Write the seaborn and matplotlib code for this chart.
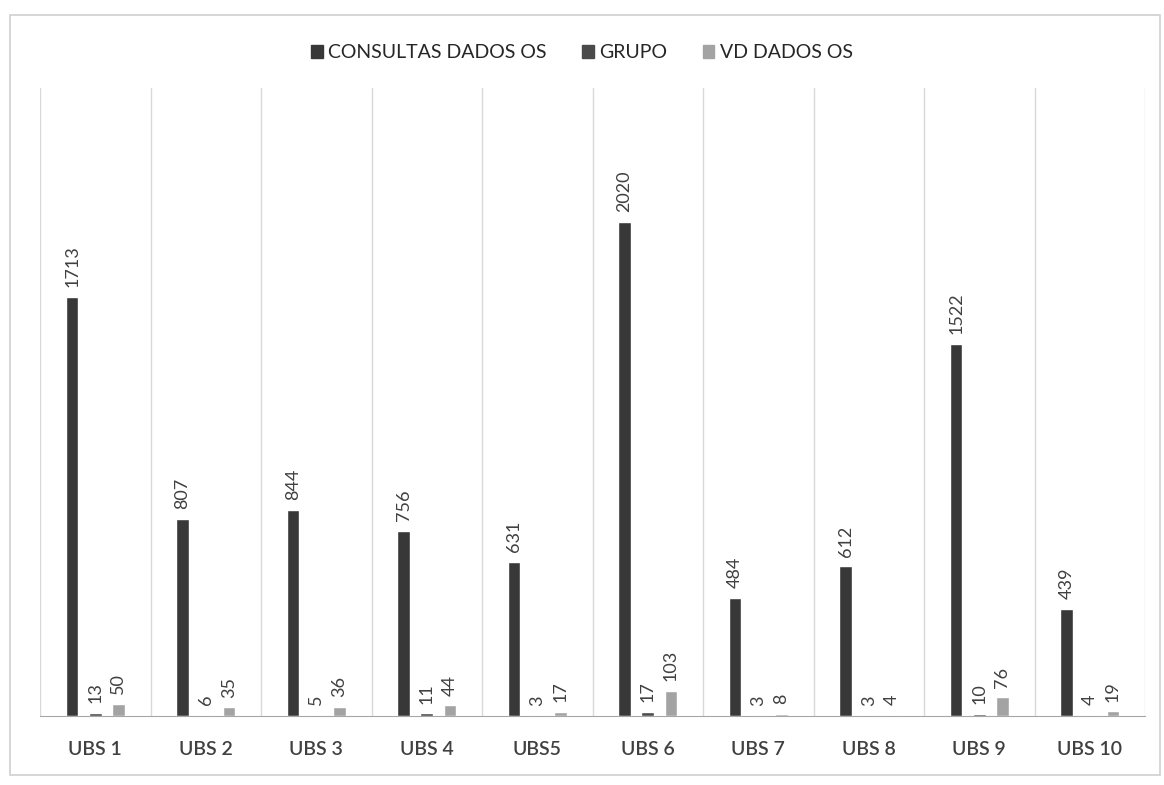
import matplotlib
matplotlib.use("Agg")
import matplotlib.pyplot as plt
import matplotlib.patches as mpatches
import seaborn as sns
import pandas as pd

categories = ["UBS 1", "UBS 2", "UBS 3", "UBS 4", "UBS5", "UBS 6", "UBS 7", "UBS 8", "UBS 9", "UBS 10"]
series_names = ["CONSULTAS DADOS OS", "GRUPO", "VD DADOS OS"]
consultas = [1713, 807, 844, 756, 631, 2020, 484, 612, 1522, 439]
grupo = [13, 6, 5, 11, 3, 17, 3, 3, 10, 4]
vd = [50, 35, 36, 44, 17, 103, 8, 4, 76, 19]
colors = ["#383838", "#4a4a4a", "#a3a3a3"]

# long format table for seaborn
rows = []
for name, values in zip(series_names, [consultas, grupo, vd]):
    for cat, v in zip(categories, values):
        rows.append({"UBS": cat, "serie": name, "valor": v})
df = pd.DataFrame(rows)

sns.set_style("white")
plt.rcParams["font.family"] = ["Lato", "DejaVu Sans"]

fig = plt.figure(figsize=(11.64, 7.85), dpi=100)
ax = fig.add_axes([40 / 1164, 1 - 716 / 785, 1105 / 1164, 628 / 785])

sns.barplot(data=df, x="UBS", y="valor", hue="serie", order=categories,
            hue_order=series_names, palette=colors, width=0.63, gap=0.45,
            ax=ax, legend=False)

# data labels rotated like the original
for cont in ax.containers:
    ax.bar_label(cont, rotation=90, padding=7, fontsize=13, color="#404040")

ax.set_ylim(0, 2568)
ax.set_xlim(-0.5, 9.5)
ax.set_yticks([])
ax.set_xlabel("")
ax.set_ylabel("")
ax.set_xticks(range(len(categories)))
ax.set_xticklabels(categories, fontsize=14, color="#404040", fontweight="semibold")
ax.tick_params(axis="x", length=0, pad=18)

# vertical separators between categories
ax.set_xticks([i - 0.5 for i in range(len(categories) + 1)], minor=True)
ax.tick_params(axis="x", which="minor", length=0)
ax.grid(axis="x", which="minor", color="#d9d9d9", linewidth=1)
ax.grid(axis="x", which="major", visible=False)
for side in ["top", "left", "right"]:
    ax.spines[side].set_visible(False)
ax.spines["bottom"].set_color("#a6a6a6")

handles = [mpatches.Patch(color=c, label=n) for c, n in zip(colors, series_names)]
fig.legend(handles=handles, loc="center", bbox_to_anchor=(0.5, 1 - 53 / 785), ncol=3,
           frameon=False, fontsize=14, handlelength=0.6, handleheight=0.6,
           handletextpad=0.3, columnspacing=1.8, labelcolor="#262626")

# outer chart frame
fig.patches.append(mpatches.Rectangle((10 / 1164, 1 - 775 / 785), 1150 / 1164, 760 / 785,
                                      transform=fig.transFigure, fill=False,
                                      edgecolor="#d0d0d0", linewidth=1.2))

fig.savefig("out.png", dpi=100)
